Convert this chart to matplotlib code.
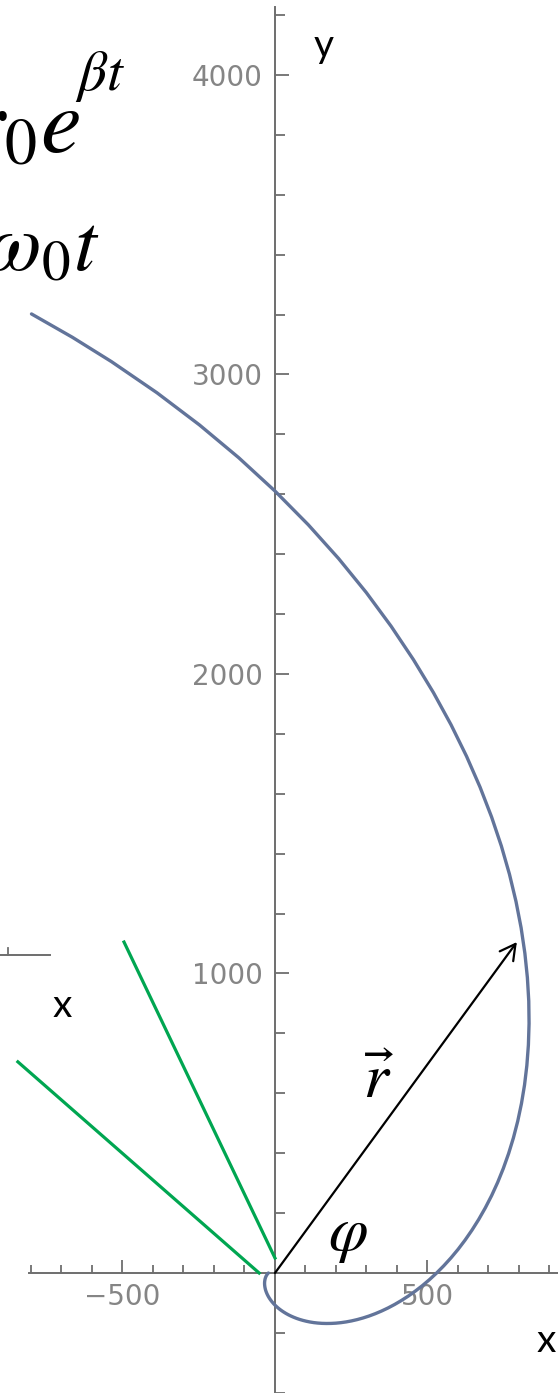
import numpy as np
import matplotlib
matplotlib.use("Agg")
import matplotlib.pyplot as plt

plt.rcParams['mathtext.fontset'] = 'stix'

# ---- data (polar form of the spiral: angle in degrees, radius in data units)
spiral_angle_deg = [-180, -177.5, -175, -172.5, -170, -167.5, -165, -162.5, -160, -157.5,
                    -155, -152.5, -150, -147.5, -145, -142.5, -140, -137.5, -135, -132.5,
                    -130, -127.5, -125, -122.5, -120, -117.5, -115, -112.5, -110, -107.5,
                    -105, -102.5, -100, -97.5, -95, -92.5, -90, -87.5, -85, -82.5,
                    -80, -77.5, -75, -72.5, -70, -67.5, -65, -62.5, -60, -57.5,
                    -55, -52.5, -50, -47.5, -45, -42.5, -40, -37.5, -35, -32.5,
                    -30, -27.5, -25, -22.5, -20, -17.5, -15, -12.5, -10, -7.5,
                    -5, -2.5, 0, 2.5, 5, 7.5, 10, 12.5, 15, 17.5,
                    20, 22.5, 25, 27.5, 30, 32.5, 35, 37.5, 40, 42.5,
                    45, 47.5, 50, 52.5, 55, 57.5, 60, 62.5, 65, 67.5,
                    70, 72.5, 75, 77.5, 80, 82.5, 85, 87.5, 90, 92.5,
                    95, 97.5, 100, 102, 104]
spiral_radius = [21.7, 22.7, 23.7, 24.8, 25.9, 27.1, 28.3, 29.6, 31.0, 32.4,
                 33.9, 35.4, 37.0, 38.7, 40.4, 42.2, 44.2, 46.2, 48.3, 50.5,
                 52.7, 55.1, 57.6, 60.2, 63.0, 65.9, 68.8, 71.9, 75.2, 78.6,
                 82.2, 85.9, 89.8, 93.9, 98.1, 102.6, 107.3, 112.2, 117.3, 122.6,
                 128.1, 133.9, 140.0, 146.4, 153.0, 159.9, 167.2, 174.8, 182.7, 191.0,
                 199.7, 208.8, 218.2, 228.1, 238.4, 249.2, 260.6, 272.4, 284.8, 297.7,
                 311.2, 325.3, 340.1, 355.5, 371.6, 388.5, 406.1, 424.5, 443.8, 463.9,
                 485.0, 507.0, 530.0, 554.0, 579.2, 605.5, 632.9, 661.6, 691.6, 723.0,
                 755.9, 790.2, 826.0, 863.5, 902.7, 943.7, 986.5, 1031.3, 1078.0, 1126.9,
                 1178.1, 1231.6, 1287.4, 1345.8, 1406.9, 1470.7, 1537.5, 1607.3, 1680.2, 1756.4,
                 1836.1, 1919.4, 2006.5, 2097.5, 2192.7, 2291.8, 2394.4, 2500.7, 2610.8, 2724.7,
                 2842.5, 2964.3, 3090.2, 3193.9, 3300.2]

x_major_ticks = [-500, 500]
x_major_labels = ['\u2212500', '500']
x_minor_ticks = [-800, -700, -600, -400, -300, -200, -100, 100, 200, 300, 400, 600, 700, 800, 900]
y_major_ticks = [1000, 2000, 3000, 4000]
y_major_labels = ['1000', '2000', '3000', '4000']
y_minor_ticks = [-400, -200, 200, 400, 600, 800, 1200, 1400, 1600, 1800, 2200, 2400,
                 2600, 2800, 3200, 3400, 3600, 3800, 4200]

green_a_x = [-495, 0]
green_a_y = [1105, 50]
green_b_x = [-843, -52]
green_b_y = [705, 0]
radius_tip = (793, 1105)

# ---- figure
W, H = 558, 1393
fig = plt.figure(figsize=(W / 100, H / 100), dpi=100)
ax = fig.add_axes([0, 0, 1, 1])
ax.set_xlim(-901.6, 927.9)
ax.set_ylim(-400.7, 4250.4)

ang = np.deg2rad(np.array(spiral_angle_deg))
rad = np.array(spiral_radius)
ax.plot(rad * np.cos(ang), rad * np.sin(ang), color='#62749a', lw=2.4,
        solid_capstyle='round', solid_joinstyle='round', zorder=3)

axis_col = '#6e6e6e'
for side in ['top', 'right']:
    ax.spines[side].set_visible(False)
ax.spines['left'].set_position(('data', 0))
ax.spines['bottom'].set_position(('data', 0))
ax.spines['left'].set_bounds(-420, 4227)
ax.spines['bottom'].set_bounds(-805, 940)
for side in ['left', 'bottom']:
    ax.spines[side].set_color(axis_col)
    ax.spines[side].set_linewidth(1.4)

ax.set_xticks(x_major_ticks)
ax.set_xticklabels(x_major_labels)
ax.set_xticks(x_minor_ticks, minor=True)
ax.set_yticks(y_major_ticks)
ax.set_yticklabels(y_major_labels)
ax.set_yticks(y_minor_ticks, minor=True)

ax.tick_params(axis='y', which='major', direction='in', length=10, width=1.3,
               color=axis_col, labelsize=20, labelcolor='#858585', pad=9)
ax.tick_params(axis='y', which='minor', direction='in', length=7.2, width=1.3, color=axis_col)
ax.tick_params(axis='x', which='major', direction='in', length=9.4, width=1.3,
               color=axis_col, labelsize=20, labelcolor='#858585', pad=7)
ax.tick_params(axis='x', which='minor', direction='in', length=5.8, width=1.3, color=axis_col)

# green guide lines
ax.plot(green_a_x, green_a_y, color='#00a651', lw=2.3, zorder=4)
ax.plot(green_b_x, green_b_y, color='#00a651', lw=2.3, zorder=4)

# radius vector
ax.annotate('', xy=radius_tip, xytext=(0, 0),
            arrowprops=dict(arrowstyle='->,head_length=0.55,head_width=0.3',
                            lw=1.6, color='black', shrinkA=0, shrinkB=0,
                            mutation_scale=20), zorder=5)

# fragment of a neighbouring axis on the left
ax.plot([-902, -738], [1062, 1062], color=axis_col, lw=1.4, clip_on=False)
ax.plot([-875, -875], [1062, 1085], color=axis_col, lw=1.3)

# labels
lab_font = dict(family=['Lato', 'DejaVu Sans'], color='black', fontsize=28)
ax.text(160, 4060, 'y', ha='center', va='baseline', **lab_font)
ax.text(-698, 855, 'x', ha='center', va='baseline', **lab_font)
ax.text(888, -264, 'x', ha='center', va='baseline', **lab_font)

ax.text(338, 585, r'$\vec{r}$', ha='center', va='baseline', fontsize=46, color='black')
ax.text(239, 77, r'$\varphi$', ha='center', va='baseline', fontsize=46, color='black')

# formulas (partly cut off by the left edge, as in the reference)
ax.text(-639, 3743, r'$r=r_0e$', ha='right', va='baseline', fontsize=66, color='black')
ax.text(-655, 3950, r'$\beta t$', ha='left', va='baseline', fontsize=41, color='black')
ax.text(-574, 3349, r'$\varphi=\omega_0t$', ha='right', va='baseline', fontsize=59, color='black')

fig.savefig('out.png', dpi=100)
